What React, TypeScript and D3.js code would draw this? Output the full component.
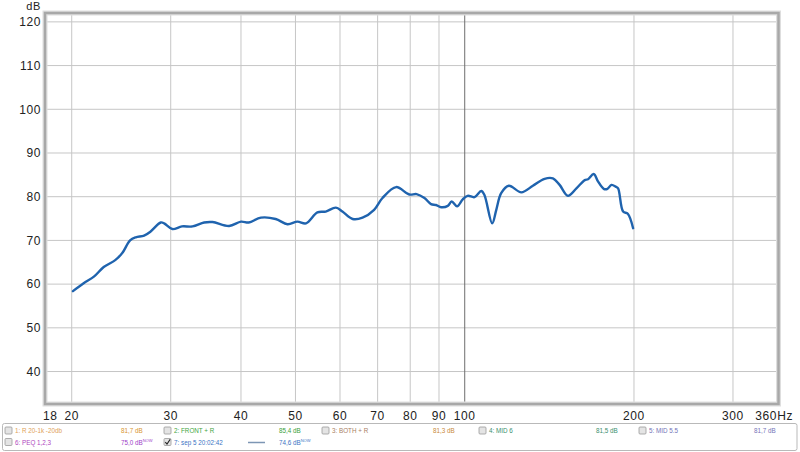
import React from "react";
import * as d3 from "d3";

const freqs = [20.1, 21.0, 21.9, 22.8, 23.9, 24.6, 25.4, 26.0, 26.9, 27.6, 28.8, 29.2, 30.2, 31.4, 32.8, 34.4, 35.6, 38.1, 40.0, 41.3, 43.4, 46.1, 48.4, 50.4, 52.2, 54.7, 56.6, 59.0, 60.6, 63.2, 65.8, 69.0, 71.4, 75.5, 79.7, 82.1, 84.8, 87.1, 88.9, 90.8, 93.3, 94.8, 96.9, 99.2, 101.2, 104.1, 107.0, 108.4, 111.9, 113.8, 116.1, 119.8, 126.1, 132.2, 138.7, 143.5, 147.5, 152.6, 158.0, 163.5, 165.7, 169.6, 172.6, 176.7, 179.4, 182.4, 185.6, 187.4, 191.3, 195.0, 199.3];
const spl = [58.4, 60.2, 61.7, 63.9, 65.5, 67.1, 70.0, 70.7, 71.1, 72.0, 74.1, 73.9, 72.6, 73.2, 73.2, 74.1, 74.2, 73.3, 74.3, 74.1, 75.2, 74.9, 73.7, 74.3, 73.9, 76.4, 76.6, 77.5, 76.6, 74.9, 75.2, 77.0, 79.7, 82.2, 80.5, 80.6, 79.7, 78.3, 78.1, 77.6, 77.9, 78.9, 77.8, 79.4, 80.2, 79.9, 81.3, 80.4, 73.9, 77.0, 80.8, 82.5, 81.0, 82.5, 84.1, 84.2, 82.7, 80.2, 81.9, 83.8, 84.0, 85.2, 83.5, 81.8, 81.8, 82.7, 82.3, 81.9, 76.6, 76.1, 72.8];

const yTicks = [40, 50, 60, 70, 80, 90, 100, 110, 120];
const xGrid = [20, 30, 40, 50, 60, 70, 80, 90, 100, 200, 300];
const xLabels = ["18", "20", "30", "40", "50", "60", "70", "80", "90", "100", "200", "300", "360Hz"];
const xLabelFreqs = [18, 20, 30, 40, 50, 60, 70, 80, 90, 100, 200, 300, 360];

const legendRow1 = [
  { name: "1: R 20-1k -20db", value: "81,7 dB", color: "#e0a25a", vcolor: "#d9952f" },
  { name: "2: FRONT + R", value: "85,4 dB", color: "#3fa63f", vcolor: "#3aa03a" },
  { name: "3: BOTH + R", value: "81,3 dB", color: "#a98065", vcolor: "#c98a3a" },
  { name: "4: MID 6", value: "81,5 dB", color: "#3a8f6e", vcolor: "#3a8f6e" },
  { name: "5: MID 5.5", value: "81,7 dB", color: "#7474b8", vcolor: "#7474b8" },
];
const legendRow2 = [
  { name: "6: PEQ 1,2,3", value: "75,0 dB", color: "#b048c0", vcolor: "#a040c8", checked: false },
  { name: "7: sep 5 20:02:42", value: "74,6 dB", color: "#3b74c4", vcolor: "#3b74c4", checked: true },
];

const W = 800, H = 452;
const L = 46, R = 777.5, T = 14, B = 403;

export default function App() {
  const x = d3.scaleLog().domain([18, 360]).range([L, R]);
  const y = d3.scaleLinear().domain([32.8, 121.8]).range([B, T]);
  const line = d3
    .line<number>()
    .x((_, i) => x(freqs[i]))
    .y((d) => y(d))
    .curve(d3.curveCatmullRom.alpha(0.5));
  const path = line(spl) || "";

  const colX1 = [15, 174, 332, 489, 649];
  const valX1 = [121, 279, 433, 596, 754];
  const colX2 = [15, 174];
  const valX2 = [121, 279];

  const checkbox = (cx: number, cy: number, checked: boolean, key: string) => (
    <g key={key}>
      <rect x={cx} y={cy} width={7} height={7} fill="#e4e4e4" stroke="#9a9a9a" strokeWidth={0.8} rx={1} />
      {checked && (
        <path d={`M${cx + 1.3},${cy + 3.6} L${cx + 3},${cy + 5.6} L${cx + 6.2},${cy + 0.8}`} fill="none" stroke="#222" strokeWidth={1.1} />
      )}
    </g>
  );

  return (
    <svg width={W} height={H} style={{ position: "absolute", left: 0, top: 0, background: "#fff" }} fontFamily="'Liberation Sans', Arial, sans-serif">
      <rect x={0} y={0} width={W} height={H} fill="#fff" />
      <rect x={L} y={T} width={R - L} height={B - T} fill="#fff" />
      {yTicks.map((t) => (
        <line key={"h" + t} x1={L} x2={R} y1={y(t)} y2={y(t)} stroke="#c6c6c6" strokeWidth={1} />
      ))}
      {xGrid.map((f) => (
        <line key={"v" + f} x1={x(f)} x2={x(f)} y1={T} y2={B} stroke={f === 100 ? "#6e6e6e" : "#c6c6c6"} strokeWidth={1} />
      ))}
      <rect x={L - 1} y={T - 1} width={R - L + 2} height={B - T + 2} fill="none" stroke="#dedede" strokeWidth={5} />
      <rect x={L - 1} y={T - 1} width={R - L + 2} height={B - T + 2} fill="none" stroke="#a8a8a8" strokeWidth={2.5} />
      <path d={path} fill="none" stroke="#1f63ae" strokeWidth={2.4} strokeLinejoin="round" strokeLinecap="round" />
      <text x={41} y={10} textAnchor="end" fontSize={11} fill="#222" letterSpacing={0.6}>dB</text>
      {yTicks.map((t) => (
        <text key={"yl" + t} x={41} y={y(t) + 4.3} textAnchor="end" fontSize={12} fill="#222" letterSpacing={0.6}>
          {t}
        </text>
      ))}
      {xLabels.map((lab, i) => {
        const f = xLabelFreqs[i];
        let anchor: "start" | "middle" | "end" = "middle";
        let px = x(f);
        if (i === 0) { anchor = "start"; px = x(f) - 3; }
        if (i === xLabels.length - 1) { anchor = "end"; px = 793; }
        return (
          <text key={"xl" + lab} x={px} y={419.5} textAnchor={anchor} fontSize={12} fill="#222" letterSpacing={0.6}>
            {lab}
          </text>
        );
      })}
      <rect x={2.5} y={423.5} width={794.5} height={27} fill="#fff" stroke="#b9b9b9" strokeWidth={1} rx={2} />
      {legendRow1.map((it, i) => (
        <g key={"l1" + i}>
          {checkbox(colX1[i] - 10, 427, false, "c1" + i)}
          <text x={colX1[i]} y={433} fontSize={6.3} fill={it.color}>{it.name}</text>
          <text x={valX1[i]} y={433} fontSize={6.3} fill={it.vcolor}>{it.value}</text>
        </g>
      ))}
      {legendRow2.map((it, i) => (
        <g key={"l2" + i}>
          {checkbox(colX2[i] - 10, 438.5, it.checked, "c2" + i)}
          <text x={colX2[i]} y={444.5} fontSize={6.3} fill={it.color}>{it.name}</text>
          <text x={valX2[i]} y={444.5} fontSize={6.3} fill={it.vcolor}>
            {it.value}
            <tspan fontSize={4} dy={-2.5}>NOW</tspan>
          </text>
        </g>
      ))}
      <line x1={248} x2={265} y1={442.5} y2={442.5} stroke="#7d96b4" strokeWidth={1.5} />
    </svg>
  );
}
